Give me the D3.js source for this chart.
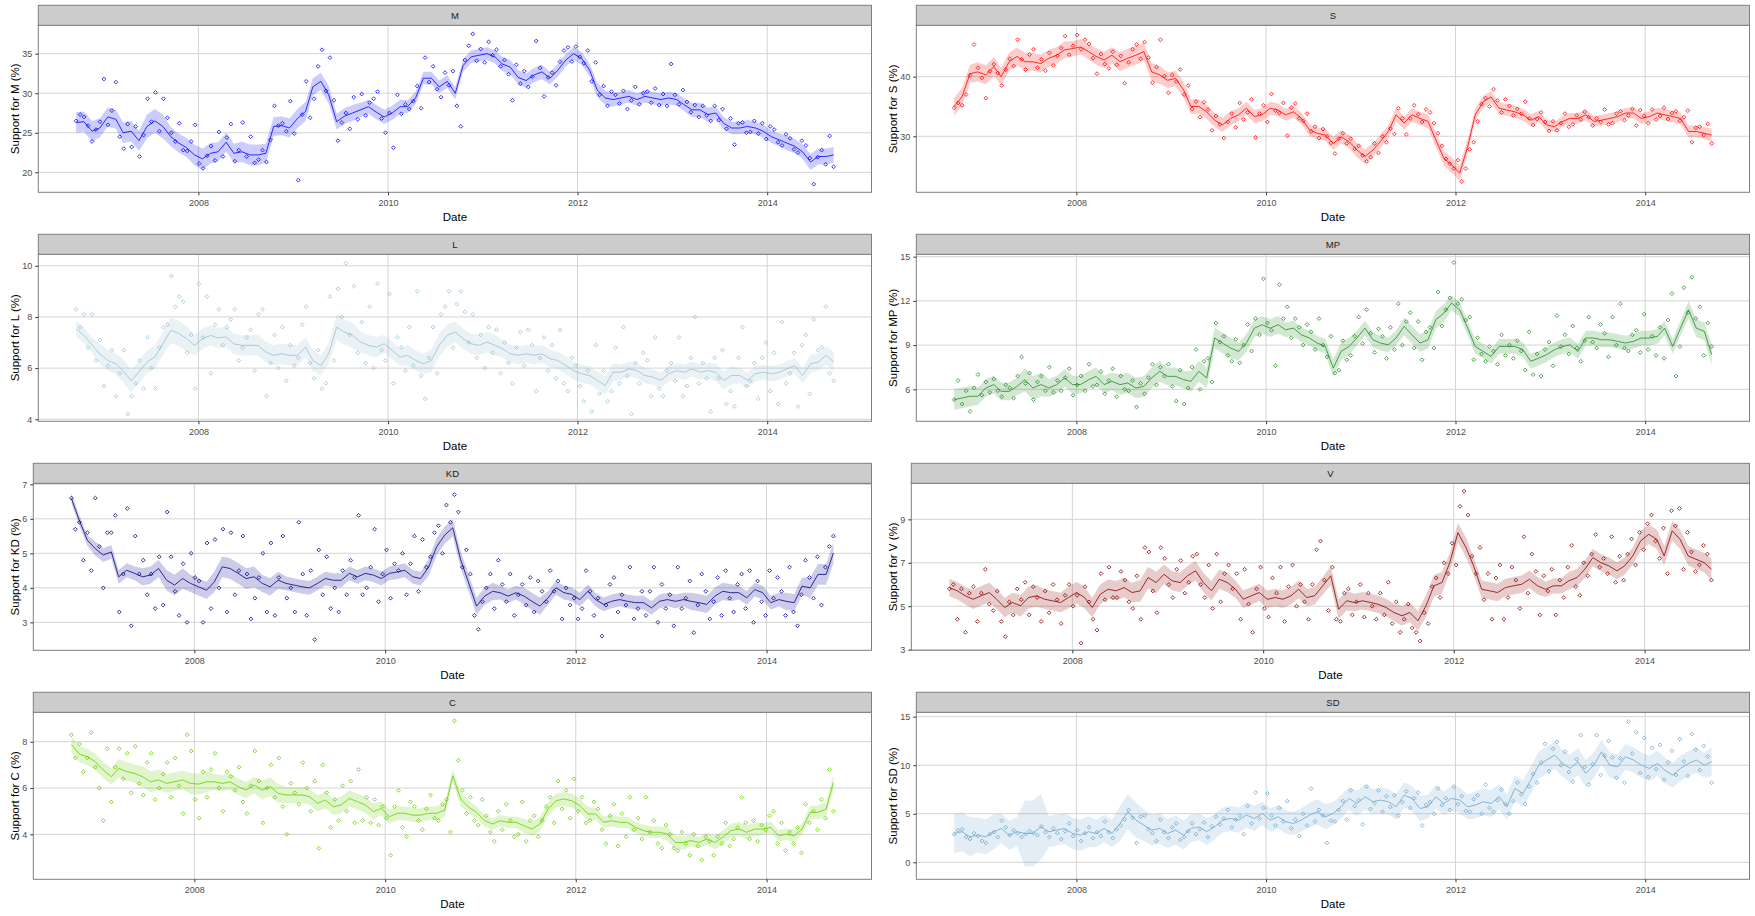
<!DOCTYPE html>
<html>
<head>
<meta charset="utf-8">
<script src="https://cdn.jsdelivr.net/npm/d3@7"></script>
<style>
  body { margin: 0; background: #fff; }
  text { font-family: "Liberation Sans", Arial, sans-serif; }
</style>
</head>
<body>
<div id="chart"></div>
<script>
// monthly smoothed support, Sep 2006 .. Sep 2014 (one row = Sep..Aug)
const mLine = [
  26.3,26.4,25.2,25.6,27.0,26.7,25.0,25.2,24.0,25.8,26.5,25.8,
  24.5,23.7,23.1,22.2,21.7,22.4,22.6,23.8,22.4,22.6,22.2,22.2,
  22.4,25.8,25.9,25.6,26.8,27.7,30.8,31.5,29.8,26.4,27.1,27.5,
  27.9,28.3,27.6,27.0,27.5,28.3,28.3,29.4,31.9,31.9,30.8,31.5,
  30.0,33.5,34.6,34.8,35.0,34.6,33.7,33.3,32.0,31.6,32.3,32.7,
  31.9,32.9,34.2,35.0,34.4,32.9,30.4,29.4,29.2,29.4,29.6,29.2,
  29.6,29.4,29.2,29.4,29.2,28.5,27.9,27.9,27.3,27.5,26.2,25.6,
  25.6,25.8,25.6,25.2,24.5,24.1,23.7,23.3,22.6,21.3,22.0,22.0,
  22.2];
const sLine = [
  35.0,36.6,40.5,40.8,40.3,41.7,40.0,42.5,43.4,42.5,42.5,42.2,
  43.1,43.6,44.5,44.7,45.0,44.2,43.4,42.8,43.6,42.5,43.1,43.6,
  44.2,40.8,40.3,39.4,39.7,37.8,35.0,35.0,34.1,32.7,31.9,33.0,
  33.6,34.7,33.3,33.6,34.7,34.4,33.6,34.1,33.0,31.1,30.5,30.2,
  28.8,29.9,29.1,27.7,26.6,27.7,29.1,30.8,33.6,32.2,33.6,33.0,
  32.5,29.4,26.3,25.2,23.8,28.3,33.6,35.8,36.6,34.7,34.4,34.1,
  33.6,32.7,33.3,31.9,31.6,32.5,33.0,33.0,33.6,32.5,32.7,33.0,
  33.3,33.9,33.9,33.0,33.3,33.9,33.6,33.3,33.0,30.8,30.8,30.5,
  30.2];
const lLine = [
  7.54,7.28,6.9,6.56,6.3,6.17,5.9,5.5,5.85,6.24,6.43,6.95,
  7.48,7.35,7.15,6.89,7.15,7.28,7.18,7.22,6.95,6.89,6.89,6.89,
  6.63,6.5,6.56,6.5,6.5,6.82,6.3,6.1,6.56,7.6,7.41,7.28,
  7.02,6.89,6.82,6.95,6.69,6.43,6.5,6.3,6.17,6.3,6.89,7.28,
  7.41,7.15,6.95,6.89,7.02,6.89,6.76,6.56,6.5,6.56,6.5,6.56,
  6.37,6.3,6.1,5.9,5.78,5.71,5.52,5.32,5.84,5.84,5.97,5.9,
  5.71,5.65,5.52,5.78,5.9,5.84,5.97,5.84,5.9,5.84,5.52,5.71,
  5.71,5.52,5.78,5.84,5.78,5.84,5.97,6.1,5.71,6.17,6.24,6.5,
  6.24];
const mpLine = [
  5.3,5.41,5.53,5.53,6.09,6.32,5.86,5.86,6.2,6.65,6.09,6.32,
  6.09,6.32,6.77,6.32,6.32,6.65,6.88,6.32,6.54,6.32,6.43,6.09,
  6.2,6.77,7.22,6.88,6.88,6.65,6.54,7.22,6.77,9.48,9.14,8.8,
  8.57,9.14,10.15,10.38,10.15,10.38,10.04,10.15,9.7,9.48,9.14,8.91,
  7.44,8.57,8.91,9.48,10.15,9.36,9.14,9.02,9.48,10.27,9.7,9.14,
  9.36,10.72,11.17,11.85,11.4,10.15,8.91,8.57,8.23,8.91,8.91,8.91,
  8.69,7.9,8.12,8.35,8.69,8.91,9.02,8.57,9.48,9.48,9.36,9.36,
  9.25,9.14,9.25,9.48,9.48,9.59,10.15,8.91,10.15,11.4,10.15,9.93,
  8.35];
const kdLine = [
  6.59,5.96,5.38,5.14,4.95,5.04,4.32,4.51,4.42,4.32,4.37,4.56,
  4.22,4.08,4.27,4.13,4.03,3.93,4.17,4.61,4.56,4.42,4.27,4.32,
  4.13,4.03,4.22,4.13,4.08,4.03,4.0,4.13,4.27,4.22,4.22,4.42,
  4.32,4.42,4.37,4.27,4.42,4.46,4.51,4.32,4.27,4.61,5.19,5.53,
  5.74,4.82,4.14,3.47,3.76,3.9,3.86,3.76,3.86,3.76,3.61,3.47,
  3.71,4.0,3.86,3.81,3.66,3.9,3.66,3.52,3.61,3.66,3.61,3.57,
  3.57,3.42,3.61,3.66,3.61,3.66,3.61,3.57,3.52,3.76,3.9,3.86,
  3.86,3.71,3.95,3.86,3.57,3.66,3.61,3.57,4.05,4.0,4.39,4.39,
  5.01];
const vLine = [
  5.86,5.71,5.48,5.32,5.48,5.63,5.32,4.94,5.17,5.02,5.4,5.48,
  5.32,5.25,5.17,5.4,5.63,5.4,4.94,5.55,5.78,5.71,5.86,5.63,
  5.71,6.32,6.09,6.47,6.17,6.09,6.4,6.63,6.09,5.71,6.24,6.09,
  5.78,5.32,5.48,5.63,5.32,5.4,5.32,5.48,5.78,5.4,5.48,5.94,
  6.4,4.86,5.25,5.17,5.25,5.17,5.09,4.94,4.71,4.56,4.71,4.33,
  5.02,5.94,6.09,7.01,8.39,7.7,6.86,5.78,5.71,5.63,5.86,5.94,
  6.01,6.24,5.94,5.78,5.94,5.94,6.17,6.32,6.7,7.24,7.01,6.86,
  6.63,6.86,7.32,8.01,8.31,8.08,7.32,8.47,8.08,7.32,7.16,7.01,
  6.7];
const cLine = [
  7.88,7.47,7.35,7.14,6.78,6.49,6.85,6.71,6.63,6.49,6.27,6.35,
  6.2,6.27,6.35,6.2,6.17,6.27,6.27,6.2,6.27,6.06,5.91,6.13,
  5.91,6.06,5.77,5.7,5.7,5.7,5.63,5.34,5.48,5.19,5.27,5.55,
  5.41,5.27,4.98,5.12,4.76,4.91,4.91,4.83,4.83,4.91,4.91,5.05,
  6.53,5.53,5.17,4.95,4.59,4.45,4.59,4.52,4.52,4.37,4.23,4.45,
  5.09,5.45,5.53,5.45,5.24,4.88,4.88,4.52,4.59,4.52,4.52,4.3,
  4.16,4.09,4.09,4.01,3.65,3.65,3.73,3.65,3.8,3.65,3.87,4.16,
  4.23,4.09,4.23,4.23,4.3,3.94,4.01,3.94,4.23,4.95,4.95,5.09,
  6.24];
const sdLine = [
  2.97,3.15,2.63,2.8,2.63,3.15,3.49,2.8,3.15,2.97,2.97,3.66,
  3.15,3.32,3.49,2.97,2.8,3.15,2.97,3.49,2.97,4.0,5.2,4.35,
  3.83,3.32,3.49,2.97,3.32,2.8,3.49,3.66,3.15,3.66,4.35,4.52,
  4.35,4.86,4.52,5.03,4.35,4.69,4.18,4.0,4.35,4.86,5.2,4.69,
  5.03,5.72,6.58,6.06,6.75,6.24,6.41,6.24,5.72,6.92,6.58,5.55,
  5.72,6.75,6.06,6.58,6.41,5.72,5.89,6.24,6.06,6.75,5.72,7.61,
  7.09,8.47,10.01,10.53,11.04,10.18,9.67,10.36,9.15,10.01,11.38,10.01,
  9.84,10.87,10.53,10.01,9.67,10.18,9.5,8.98,9.67,10.18,10.53,10.01,
  10.36];

// half width of the confidence band, one value per quarter
const mBand  = [1.3,1.2,1.3,1.5,1.2,1.3,1.2,1.3,1.2,1.2,1.1,1.0,0.9,0.9,0.8,0.8,0.8,0.8,0.9,0.9,0.8,0.8,0.9,0.8,0.8,0.8,0.9,0.8,0.8,0.8,0.9,1.0,1.0];
const sBand  = [1.5,1.6,1.5,1.5,1.4,1.3,1.4,1.6,1.5,1.3,1.2,1.2,1.1,1.1,1.0,1.0,1.1,1.2,1.1,1.1,1.2,1.3,1.0,1.0,1.0,0.9,0.9,0.9,0.9,0.9,1.0,1.0,1.1];
const lBand  = [0.3,0.4,0.45,0.45,0.5,0.4,0.4,0.4,0.4,0.4,0.4,0.5,0.4,0.35,0.4,0.45,0.4,0.4,0.35,0.35,0.35,0.35,0.35,0.3,0.3,0.3,0.3,0.35,0.3,0.3,0.3,0.35,0.4];
const mpBand = [0.7,0.6,0.6,0.8,0.6,0.6,0.6,0.7,0.7,0.6,0.7,0.7,0.6,0.6,0.5,0.5,0.6,0.5,0.5,0.6,0.6,0.5,0.5,0.5,0.5,0.5,0.5,0.5,0.5,0.5,0.5,0.6,0.7];
const kdBand = [0.15,0.2,0.2,0.25,0.3,0.25,0.3,0.3,0.25,0.2,0.2,0.2,0.2,0.2,0.2,0.25,0.25,0.25,0.2,0.25,0.2,0.2,0.2,0.2,0.2,0.2,0.25,0.25,0.2,0.2,0.25,0.3,0.3];
const vBand  = [0.4,0.45,0.45,0.5,0.45,0.5,0.45,0.45,0.5,0.45,0.45,0.45,0.4,0.4,0.4,0.4,0.45,0.4,0.4,0.45,0.5,0.45,0.4,0.4,0.4,0.35,0.4,0.4,0.4,0.45,0.45,0.45,0.5];
const cBand  = [0.35,0.35,0.4,0.45,0.4,0.45,0.35,0.35,0.4,0.35,0.35,0.35,0.35,0.3,0.3,0.3,0.3,0.25,0.25,0.3,0.3,0.3,0.25,0.25,0.25,0.3,0.25,0.3,0.3,0.25,0.25,0.3,0.35];
const sdBand = [2.0,1.8,1.5,3.4,1.6,1.6,1.4,1.8,1.6,1.5,1.4,1.3,1.3,1.2,1.2,1.3,1.2,1.3,1.3,1.3,1.2,1.3,1.4,1.3,1.4,1.4,1.4,1.3,1.3,1.3,1.3,1.3,1.5];

// individual polls, evenly over the period (one row = Sep..Aug)
const mPts = [
  26.5,27.3,27.0,25.9,23.9,25.4,26.4,31.8,26.0,27.8,31.4,24.5,23.0,26.1,23.2,25.8,22.0,24.7,29.3,26.4,30.1,25.2,29.3,26.9,
  25.0,23.9,26.2,22.8,22.7,23.9,26.0,21.1,20.5,22.1,23.3,21.5,25.1,22.0,24.4,26.1,21.4,22.8,26.3,22.0,24.5,21.2,21.6,22.8,
  21.3,24.1,28.4,25.9,26.2,25.2,29.0,24.9,19.0,27.3,31.5,26.9,29.3,33.4,35.5,30.3,34.5,29.1,24.0,26.3,27.5,25.5,29.5,26.7,
  29.9,27.2,28.8,29.3,30.2,26.8,25.0,27.5,23.1,29.8,27.4,28.6,28.0,29.0,30.9,28.1,34.5,31.4,33.4,30.5,29.5,32.6,31.0,32.8,
  28.4,25.8,34.2,36.0,37.5,34.1,35.6,33.9,36.5,34.8,35.5,33.4,34.2,32.4,29.1,33.6,31.2,32.8,30.8,32.1,36.6,33.2,29.6,32.0,
  32.6,31.0,34.0,35.4,35.8,34.0,35.9,34.6,33.8,35.4,31.5,33.9,29.8,30.9,28.4,30.2,29.8,28.7,30.3,28.0,29.1,30.8,28.6,30.0,
  30.2,28.8,30.6,28.5,29.9,28.4,33.7,29.8,28.6,30.4,28.9,27.6,28.5,27.0,28.4,27.2,26.5,28.4,26.6,28.0,25.5,26.8,23.5,26.2,
  26.3,25.0,25.1,26.5,24.9,26.2,24.2,25.8,25.4,23.8,23.4,24.8,24.3,22.9,22.5,24.0,23.4,21.8,18.5,21.9,22.8,21.0,24.6,20.7];
const sPts = [
  34.8,35.6,35.2,37.0,40.2,45.4,41.5,39.8,36.4,40.9,42.1,40.6,38.5,41.2,43.0,41.8,46.2,42.9,41.2,43.7,44.6,41.5,42.9,41.0,
  44.0,41.9,43.5,44.8,46.8,43.7,45.2,47.0,44.6,46.2,45.5,43.1,40.5,43.8,42.1,41.4,44.2,42.0,43.5,38.9,42.4,44.6,45.4,43.0,
  45.8,43.2,39.0,41.6,46.2,40.1,37.3,40.3,39.2,41.2,37.0,38.5,34.6,35.8,33.2,35.7,34.5,31.0,33.4,32.0,29.7,32.4,33.8,31.5,
  35.6,32.8,34.0,36.2,29.8,33.8,35.2,32.4,37.1,34.3,33.9,35.6,30.1,34.8,35.5,33.0,32.6,33.8,30.8,31.6,29.7,31.2,30.0,28.9,
  27.1,29.6,30.5,28.8,29.6,27.9,28.4,26.8,25.8,26.5,28.8,27.2,30.0,29.0,31.3,30.4,34.7,33.0,30.3,33.0,35.2,33.7,32.4,34.5,
  34.0,32.2,30.5,28.4,26.2,25.4,24.6,26.0,22.4,24.6,27.8,29.0,32.5,35.4,36.4,35.0,37.9,36.0,34.0,36.2,35.1,33.5,34.6,33.8,
  35.8,33.0,31.9,32.9,34.0,32.4,30.9,32.5,31.0,32.2,33.8,31.6,32.0,33.5,32.8,34.1,33.2,31.8,33.0,32.4,34.5,32.0,32.2,33.8,
  34.2,32.7,33.5,34.6,31.8,34.4,33.4,32.2,34.5,32.8,33.4,34.8,32.9,33.9,34.2,32.6,33.2,34.3,29.0,31.4,31.6,30.2,32.1,28.8];
const lPts = [
  8.3,7.6,8.1,6.8,8.1,6.3,7.1,5.3,6.1,6.7,4.9,5.8,6.7,4.2,4.9,5.4,6.3,5.2,7.2,6.0,5.2,6.8,7.6,7.7,
  9.6,8.4,8.8,8.6,6.6,7.3,5.2,9.3,7.2,8.8,5.8,7.7,8.3,6.9,7.6,7.9,8.3,6.3,6.8,7.2,7.5,5.9,8.1,8.3,
  4.9,6.2,7.3,6.0,7.6,5.5,6.9,6.1,6.4,7.7,8.4,6.2,5.6,6.7,5.2,5.4,8.8,6.3,9.1,8.0,10.1,7.3,9.2,6.6,
  7.8,6.2,8.4,6.0,9.3,6.7,6.3,8.9,5.4,7.2,6.8,5.9,7.6,6.1,9.0,5.7,4.8,6.4,7.6,5.8,8.1,8.4,9.0,6.8,
  8.5,9.0,8.2,7.0,8.1,6.4,7.3,6.0,7.6,6.6,7.5,5.8,7.0,6.2,5.4,6.8,7.4,6.1,7.5,6.9,5.1,6.4,7.2,5.9,
  6.9,5.6,7.5,5.4,5.1,6.4,6.1,5.3,4.7,5.9,4.3,6.9,5.0,5.9,4.7,5.1,6.8,5.4,7.6,5.7,4.2,6.2,5.4,6.6,
  6.3,4.9,7.2,5.2,4.9,5.9,6.2,5.5,7.2,4.9,5.3,6.4,8.0,5.4,6.2,5.6,4.3,6.4,5.6,6.7,4.6,5.1,4.5,6.4,
  7.6,5.3,5.5,6.2,4.8,6.4,7.0,5.1,6.6,4.6,7.8,5.4,5.8,6.6,4.5,6.9,7.3,5.0,7.9,6.7,6.8,8.4,5.8,5.5];
const mpPts = [
  5.3,6.6,5.0,5.9,4.5,6.1,7.0,5.6,6.5,5.8,6.7,5.9,5.5,6.3,6.1,5.4,6.9,8.2,6.4,7.1,5.3,6.5,6.9,5.9,
  7.5,5.8,6.6,5.9,6.8,7.4,5.6,6.3,6.9,5.9,7.7,6.2,6.3,7.2,5.7,6.6,7.4,5.5,6.9,6.0,5.9,6.6,4.8,6.4,
  5.7,6.8,7.7,6.3,7.5,6.9,7.7,6.2,5.2,7.3,5.0,6.1,7.5,8.7,6.0,7.9,8.1,6.5,10.5,9.2,9.6,8.3,7.9,9.4,
  7.8,9.0,10.4,8.6,10.8,9.7,13.5,10.5,10.0,7.6,13.1,10.8,11.6,9.5,10.8,10.2,9.0,10.4,9.9,8.7,10.8,9.0,8.2,9.6,
  7.1,7.3,9.3,8.0,8.3,9.6,10.9,9.1,11.4,9.8,8.5,10.1,9.6,8.1,10.2,8.7,11.8,9.0,10.6,11.2,8.8,10.6,8.0,9.9,
  10.2,8.8,12.6,10.3,11.4,12.2,14.6,11.8,12.1,10.7,10.9,8.0,9.5,8.4,7.9,8.9,8.6,7.7,9.7,8.3,9.0,8.1,9.3,8.6,
  7.3,9.9,7.0,8.4,6.9,8.7,9.2,7.6,11.0,8.9,9.7,8.4,10.3,8.8,7.9,9.3,10.9,9.2,8.8,10.4,9.8,8.2,10.9,9.0,
  11.8,8.8,8.6,9.7,10.0,8.5,11.1,8.7,9.6,8.3,10.2,8.1,10.7,12.5,6.9,8.9,12.9,11.2,13.6,10.8,11.6,8.3,10.5,8.9];
const kdPts = [
  6.6,5.7,5.9,4.8,5.6,4.5,6.6,5.2,4.0,5.6,5.6,6.1,3.3,4.4,6.3,2.9,5.5,4.4,4.8,3.8,4.4,3.4,4.9,3.5,
  6.2,4.9,3.9,3.2,4.7,3.0,5.0,4.3,4.2,3.0,5.3,3.4,5.4,4.0,5.7,3.3,5.6,3.8,4.5,5.5,4.4,3.1,3.7,4.3,
  5.0,3.3,5.3,3.2,4.3,5.5,3.7,4.0,3.3,5.9,4.4,3.2,4.5,2.5,5.1,3.8,4.9,3.4,4.0,3.3,4.5,3.8,4.8,4.3,
  6.1,3.8,4.0,4.6,5.7,3.6,4.4,5.1,3.7,4.7,4.5,5.0,3.8,4.7,5.5,3.9,5.4,4.6,4.9,5.6,5.8,5.0,6.4,5.9,
  6.7,6.2,4.6,5.1,4.4,3.2,2.8,3.6,4.0,4.4,3.4,4.8,4.1,3.6,4.4,3.2,3.8,4.1,3.5,4.3,3.3,4.2,3.9,3.6,
  4.5,3.9,4.2,3.1,4.0,3.5,3.7,3.1,3.4,4.5,3.9,3.2,3.7,2.6,3.5,4.1,4.3,3.3,3.8,3.5,4.6,3.1,3.4,3.9,
  3.2,3.9,4.6,3.0,4.1,3.4,3.8,2.9,4.6,3.4,3.7,4.2,2.7,3.5,4.4,3.9,3.1,3.6,4.3,3.2,4.5,3.7,3.3,4.1,
  4.4,3.4,4.5,3.0,4.2,3.6,3.2,4.5,3.7,4.3,3.9,3.2,4.6,3.3,2.9,3.8,4.8,4.3,3.7,4.9,3.5,4.6,5.2,5.5];
const vPts = [
  5.8,6.0,4.4,5.8,3.8,5.6,5.9,4.3,5.6,6.7,5.1,4.8,5.7,4.3,3.6,5.2,4.6,5.8,5.3,6.1,4.6,5.9,5.4,4.3,
  5.7,4.7,6.0,5.3,4.2,5.5,6.0,5.0,5.5,3.3,5.9,5.2,4.4,3.9,6.5,5.3,6.8,5.4,5.4,6.6,6.2,5.2,4.9,6.4,
  4.4,7.7,7.5,5.7,4.7,7.7,7.2,6.0,5.4,6.7,7.1,5.6,6.1,7.3,7.4,6.0,5.4,6.9,4.9,7.4,5.2,6.5,6.9,5.8,
  6.5,4.4,6.7,5.1,3.8,5.8,6.8,4.9,4.5,6.3,5.6,6.8,4.3,5.9,6.9,5.0,6.0,5.2,4.4,6.0,7.6,8.0,6.2,4.8,
  6.8,4.4,4.3,5.6,5.8,4.6,5.2,6.0,4.5,5.6,5.0,4.4,5.6,4.6,6.1,4.2,5.2,3.8,4.4,5.1,4.0,3.8,3.4,4.7,
  4.2,5.9,6.3,5.4,7.0,6.5,7.9,6.9,9.6,10.3,9.2,7.3,6.5,7.7,5.3,6.5,4.4,6.3,6.9,4.4,5.4,6.8,6.2,4.9,
  8.2,5.6,7.4,6.6,4.6,6.4,5.7,6.7,4.6,6.2,5.4,6.8,7.8,5.9,5.5,7.0,6.4,7.4,8.3,6.8,7.2,6.5,8.2,6.1,
  7.3,6.2,7.4,8.1,6.9,8.4,7.6,8.8,9.2,8.0,7.2,8.6,6.5,9.4,8.7,9.5,6.7,8.4,7.5,6.6,6.9,7.8,7.4,6.2];
const cPts = [
  8.3,7.3,7.9,6.7,7.3,8.4,6.9,6.0,4.6,7.7,5.4,6.9,7.7,6.4,7.5,5.8,7.8,6.2,5.7,7.1,7.5,5.5,6.0,6.6,
  7.1,5.6,7.3,6.1,4.9,8.3,7.6,5.5,4.7,6.7,5.6,6.8,7.5,6.0,5.0,6.7,6.5,5.9,6.9,5.4,4.9,6.1,7.6,6.3,
  4.5,6.0,7.0,5.6,7.3,5.2,4.0,6.2,5.8,5.3,7.1,6.0,5.0,6.3,3.4,7.0,5.8,4.3,5.5,4.6,6.1,5.0,6.3,4.5,
  6.8,4.6,5.6,4.5,5.5,4.4,5.2,4.7,3.1,5.2,5.9,4.3,3.9,5.4,5.2,4.6,4.2,5.1,5.7,4.7,4.6,5.3,5.5,4.1,
  8.9,7.2,5.9,4.9,5.6,4.6,4.4,5.5,4.8,4.1,3.7,5.0,4.2,5.3,4.6,3.9,4.0,5.4,3.7,4.6,4.8,3.9,4.6,5.2,
  5.6,4.5,6.3,5.1,5.9,4.7,6.4,5.0,5.6,4.5,4.6,5.4,5.1,4.2,3.6,4.8,5.3,3.5,4.9,3.9,5.6,4.2,4.7,3.8,
  5.6,4.1,4.6,3.6,3.4,4.4,4.0,3.4,3.3,4.1,3.6,3.1,4.0,3.5,2.9,3.9,3.7,3.1,3.9,3.6,4.5,3.5,3.8,4.3,
  5.6,4.5,3.8,4.6,3.7,4.4,4.2,4.8,5.0,3.6,4.5,3.3,4.1,3.6,4.3,3.2,5.3,4.5,5.0,4.2,5.5,4.7,6.8,5.0];
const sdPts = [
  2.9,3.3,3.4,2.6,2.4,3.0,2.7,2.2,2.0,2.9,3.1,2.6,4.3,3.6,2.8,3.3,3.0,2.6,2.9,3.2,3.0,2.8,3.7,3.1,
  2.6,3.5,3.0,2.4,3.2,4.0,2.7,3.3,2.2,3.0,3.6,2.5,3.1,2.7,4.2,3.1,2.5,3.4,3.8,4.4,5.4,4.6,2.0,4.7,
  4.8,3.4,3.0,2.2,4.4,3.1,2.5,3.6,4.0,2.3,2.6,3.2,4.0,2.9,3.4,4.1,2.6,3.7,4.7,3.9,4.5,5.4,3.6,4.4,
  4.8,2.9,5.8,4.0,7.2,4.5,5.6,7.1,4.8,3.8,5.6,4.2,6.3,3.5,4.4,2.7,5.0,3.8,7.6,4.2,5.4,4.8,2.0,4.3,
  4.2,5.4,6.3,4.4,7.4,5.8,6.4,3.9,7.8,5.5,6.1,7.4,5.2,6.8,5.7,6.9,4.8,6.2,7.3,5.6,6.6,7.2,3.8,5.9,
  6.2,5.0,7.6,5.9,6.6,5.4,7.8,6.0,6.8,5.3,5.2,6.5,6.9,5.0,8.0,5.6,5.2,6.4,7.5,6.0,5.0,6.3,8.2,7.0,
  6.0,7.8,9.1,8.2,10.3,12.2,9.4,11.7,12.4,10.0,11.4,9.3,8.3,10.6,13.1,9.8,8.0,10.1,13.1,9.0,11.0,12.5,10.8,8.7,
  10.7,8.2,14.5,11.2,13.4,9.2,12.8,8.8,11.8,9.6,12.1,8.5,10.3,11.5,9.0,12.7,10.4,8.9,13.2,11.6,9.5,12.0,10.9,8.2];

// axis ticks and limits
const mTicks = [20,25,30,35],   mLim = [17.47,38.59];
const sTicks = [30,40],         sLim = [20.6,48.62];
const lTicks = [4,6,8,10],      lLim = [3.92,10.45];
const mpTicks = [6,9,12,15],    mpLim = [3.83,15.16];
const kdTicks = [3,4,5,6,7],    kdLim = [2.19,7.03];
const vTicks = [3,5,7,9],       vLim = [2.97,10.66];
const cTicks = [4,6,8],         cLim = [2.06,9.27];
const sdTicks = [0,5,10,15],    sdLim = [-1.75,15.45];
const yearTicks = [2008,2010,2012,2014];

const parties = ["M","S","L","MP","KD","V","C","SD"];
const colors  = ["#0000FF","#FF0000","#9AC0CD","#228B22","#00008B","#8B0000","#66CD00","#6CA6CD"];
const lines  = [mLine,sLine,lLine,mpLine,kdLine,vLine,cLine,sdLine];
const bands  = [mBand,sBand,lBand,mpBand,kdBand,vBand,cBand,sdBand];
const points = [mPts,sPts,lPts,mpPts,kdPts,vPts,cPts,sdPts];
const ticks  = [mTicks,sTicks,lTicks,mpTicks,kdTicks,vTicks,cTicks,sdTicks];
const lims   = [mLim,sLim,lLim,mpLim,kdLim,vLim,cLim,sdLim];

const width = 1755, height = 916;
const start = new Date(2006, 8, 17), end = new Date(2014, 8, 14);
const span = end - start;

const svg = d3.select("#chart").append("svg")
    .attr("width", width)
    .attr("height", height);

parties.forEach(function(name, i) {
    const row = Math.floor(i / 2), col = i % 2;
    const origin = col == 0 ? 0 : 878;
    const digits = d3.max(ticks[i], t => String(t).length);
    const left = origin + 28.3 + 5 * digits,
          right = origin + 871.5;
    const stripTop = 5.3 + row * 229,
          top = stripTop + 20,
          bottom = stripTop + 187;
    const color = colors[i];

    const x = d3.scaleTime()
        .domain([new Date(+start - 0.05 * span), new Date(+end + 0.05 * span)])
        .range([left, right]);
    const y = d3.scaleLinear()
        .domain(lims[i])
        .range([bottom, top]);

    const g = svg.append("g");
    const yearDates = yearTicks.map(yr => new Date(yr, 0, 1));

    // grid
    g.append("g").selectAll("line").data(ticks[i]).enter().append("line")
        .attr("x1", left).attr("x2", right)
        .attr("y1", d => y(d)).attr("y2", d => y(d))
        .attr("stroke", "#d4d4d4").attr("stroke-width", 1);
    g.append("g").selectAll("line").data(yearDates).enter().append("line")
        .attr("x1", d => x(d)).attr("x2", d => x(d))
        .attr("y1", top).attr("y2", bottom)
        .attr("stroke", "#d4d4d4").attr("stroke-width", 1);

    const monthly = lines[i].map((v, k) => ({
        date: k == lines[i].length - 1 ? end : d3.timeMonth.offset(start, k),
        v: v,
        b: bands[i][Math.floor(k / 3)]
    }));
    const n = points[i].length;
    const polls = points[i].map((v, k) => ({date: new Date(+start + k * span / (n - 1)), v: v}));

    // polls
    g.append("g").selectAll("path").data(polls).enter().append("path")
        .attr("d", "M0,-1.9L1.9,0L0,1.9L-1.9,0Z")
        .attr("transform", d => "translate(" + x(d.date) + "," + y(d.v) + ")")
        .attr("fill", "none")
        .attr("stroke", color)
        .attr("stroke-width", 0.8);

    // band
    g.append("path")
        .datum(monthly)
        .attr("fill", color)
        .attr("fill-opacity", 0.2)
        .attr("d", d3.area()
            .x(d => x(d.date))
            .y0(d => y(d.v - d.b))
            .y1(d => y(d.v + d.b)));

    // smooth
    g.append("path")
        .datum(monthly)
        .attr("fill", "none")
        .attr("stroke", color)
        .attr("stroke-width", 0.8)
        .attr("d", d3.line().x(d => x(d.date)).y(d => y(d.v)));

    // border + strip
    g.append("rect")
        .attr("x", left).attr("y", top)
        .attr("width", right - left).attr("height", bottom - top)
        .attr("fill", "none").attr("stroke", "#7f7f7f").attr("stroke-width", 1);
    g.append("rect")
        .attr("x", left).attr("y", stripTop)
        .attr("width", right - left).attr("height", 20)
        .attr("fill", "#cccccc").attr("stroke", "#7f7f7f").attr("stroke-width", 1);
    g.append("text")
        .attr("x", (left + right) / 2).attr("y", stripTop + 10.5)
        .attr("dy", "0.35em")
        .attr("text-anchor", "middle")
        .attr("font-size", "9.5px")
        .attr("fill", "#1a1a1a")
        .text(name);

    // axes
    const xAxis = g.append("g")
        .attr("transform", "translate(0," + bottom + ")")
        .call(d3.axisBottom(x).tickValues(yearDates).tickFormat(d3.timeFormat("%Y"))
            .tickSize(3).tickPadding(4));
    const yAxis = g.append("g")
        .attr("transform", "translate(" + left + ",0)")
        .call(d3.axisLeft(y).tickValues(ticks[i]).tickFormat(d3.format("d"))
            .tickSize(3).tickPadding(3));
    [xAxis, yAxis].forEach(function(a) {
        a.select(".domain").remove();
        a.selectAll(".tick line").attr("stroke", "#333333");
        a.selectAll(".tick text")
            .attr("fill", "#4d4d4d")
            .attr("font-size", "9px")
            .attr("font-family", "Liberation Sans, Arial, sans-serif");
    });

    // titles
    g.append("text")
        .attr("x", (left + right) / 2).attr("y", bottom + 28.4)
        .attr("text-anchor", "middle")
        .attr("font-size", "11.5px")
        .text("Date");
    g.append("text")
        .attr("transform", "translate(" + (origin + 18.5) + "," + ((top + bottom) / 2) + ") rotate(-90)")
        .attr("text-anchor", "middle")
        .attr("font-size", "11.5px")
        .text("Support for " + name + " (%)");
});
</script>
</body>
</html>
